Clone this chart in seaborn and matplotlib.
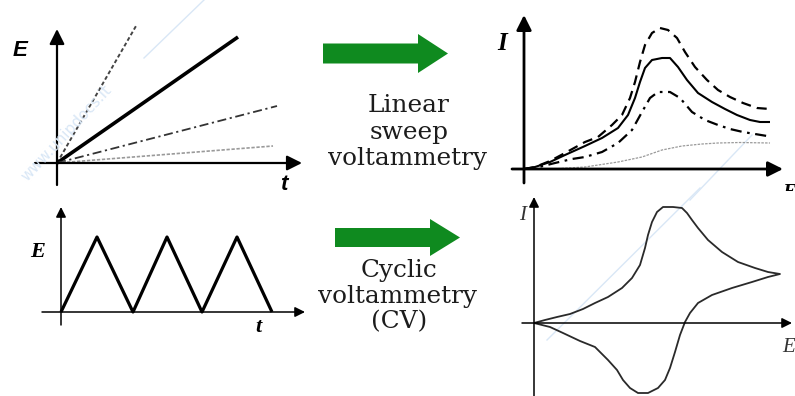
import matplotlib
matplotlib.use("Agg")
import matplotlib.pyplot as plt
from matplotlib.patches import Polygon
from matplotlib.lines import Line2D
import pandas as pd
import seaborn as sns

W, H = 795, 396

# ---- Linear sweep: potential ramps E(t) at four scan rates ----
ramp_fast_t = [0.0, 3.16]
ramp_fast_E = [0.0, 5.48]
ramp_mid_t = [0.0, 7.24]
ramp_mid_E = [0.0, 5.04]
ramp_slow_t = [0.0, 8.80]
ramp_slow_E = [0.0, 2.28]
ramp_slowest_t = [0.0, 8.64]
ramp_slowest_E = [0.0, 0.68]

# ---- Linear sweep voltammograms I(E) for the same four scan rates ----
lsv_fast_E = [0, 0.44, 1.04, 1.64, 2.44, 2.96, 3.52, 3.92, 4.24, 4.44, 4.64, 4.84, 5.12,
              5.44, 5.76, 6.12, 6.44, 6.84, 7.32, 7.76, 8.24, 8.76, 9.32, 9.84]
lsv_fast_I = [0, 0.2, 0.8, 1.6, 2.7, 3.2, 4.4, 5.4, 7.1, 8.7, 10.7, 12.4, 13.6,
              14.1, 13.9, 13.1, 11.7, 10.2, 8.9, 7.9, 7.2, 6.6, 6.1, 6.0]
lsv_mid_E = [0, 0.44, 1.04, 1.64, 2.44, 3.12, 3.76, 4.16, 4.44, 4.64, 4.84, 5.12, 5.52,
             5.84, 6.16, 6.52, 6.96, 7.52, 8.04, 8.52, 9.04, 9.44, 9.84]
lsv_mid_I = [0, 0.2, 0.7, 1.4, 2.3, 3.1, 4.1, 5.4, 7.1, 8.7, 10.1, 10.9, 11.1,
             11.1, 10.2, 8.9, 7.6, 6.7, 6.0, 5.4, 4.9, 4.7, 4.7]
lsv_slow_E = [0, 0.44, 1.24, 1.92, 2.44, 3.12, 3.76, 4.32, 4.72, 5.04, 5.36, 5.84, 6.24,
              6.72, 7.24, 7.76, 8.24, 8.76, 9.72]
lsv_slow_I = [0, 0.1, 0.6, 1.0, 1.2, 1.7, 2.6, 3.9, 5.7, 7.1, 7.7, 7.7, 7.1,
              5.7, 4.9, 4.4, 4.0, 3.7, 3.3]
lsv_slowest_E = [0, 1.44, 2.44, 3.76, 4.72, 5.52, 6.32, 7.12, 7.76, 8.64, 9.84]
lsv_slowest_I = [0, 0.05, 0.2, 0.7, 1.2, 1.9, 2.3, 2.5, 2.6, 2.65, 2.6]

# ---- Cyclic voltammetry: triangular potential waveform E(t) ----
wave_t = [0.0, 1.44, 2.88, 4.24, 5.64, 7.04, 8.44]
wave_E = [0.0, 3.0, 0.0, 3.0, 0.0, 3.0, 0.0]

# ---- Cyclic voltammogram I(E): forward scan then reverse scan ----
cv_E = [0, 0.44, 0.92, 1.44, 1.96, 2.44, 2.96, 3.52, 3.92, 4.24, 4.44, 4.56, 4.72,
        4.92, 5.16, 5.56, 5.92, 6.12, 6.32, 6.56, 6.96, 7.52, 8.16, 8.84, 9.36, 9.84,
        9.36, 8.72, 7.92, 7.12, 6.56, 6.24, 6.04, 5.84, 5.64, 5.44, 5.24, 4.96, 4.56,
        4.16, 3.84, 3.56, 3.32, 2.96, 2.44, 1.84, 1.16, 0.64, 0]
cv_I = [0, 0.15, 0.3, 0.45, 0.7, 1.0, 1.3, 1.75, 2.25, 2.9, 3.75, 4.4, 5.05,
        5.55, 5.8, 5.8, 5.75, 5.5, 5.15, 4.75, 4.15, 3.55, 3.05, 2.75, 2.55, 2.45,
        2.3, 2.05, 1.75, 1.4, 1.0, 0.5, 0.05, -0.6, -1.45, -2.25, -2.85, -3.25, -3.5,
        -3.5, -3.25, -2.85, -2.35, -1.85, -1.2, -0.9, -0.5, -0.2, 0]

fig = plt.figure(figsize=(W / 100, H / 100), dpi=100)
fig.patch.set_facecolor("white")


def panel(origin, sx, sy, box):
    """Axes covering a pixel box; data origin at `origin`, sx/sy pixels per unit."""
    ox, oy = origin
    x0, y0, x1, y1 = box
    ax = fig.add_axes([x0 / W, 1 - y1 / H, (x1 - x0) / W, (y1 - y0) / H])
    ax.set_xlim((x0 - ox) / sx, (x1 - ox) / sx)
    ax.set_ylim((oy - y1) / sy, (oy - y0) / sy)
    ax.axis("off")
    ax._px = (ox, oy, sx, sy)
    return ax


def axis_arrows(ax, xspan, yspan, lw, head):
    ox, oy, sx, sy = ax._px
    style = f"-|>,head_length={head[0]},head_width={head[1]}"
    kw = dict(arrowstyle=style, lw=lw, color="black", shrinkA=0, shrinkB=0)
    ax.annotate("", xy=((xspan[1] - ox) / sx, 0), xytext=((xspan[0] - ox) / sx, 0),
                arrowprops=kw, annotation_clip=False)
    ax.annotate("", xy=(0, (oy - yspan[1]) / sy), xytext=(0, (oy - yspan[0]) / sy),
                arrowprops=kw, annotation_clip=False)


def curve(ax, x, y, color, lw, dashes=None):
    df = pd.DataFrame({"x": x, "y": y})
    sns.lineplot(data=df, x="x", y="y", ax=ax, color=color, linewidth=lw,
                 sort=False, estimator=None)
    line = ax.lines[-1]
    line.set_solid_capstyle("butt")
    line.set_solid_joinstyle("round")
    if dashes is not None:
        line.set_dashes(dashes)
        line.set_dash_capstyle("butt")
        line.set_dash_joinstyle("round")
    return line


def block_arrow(x0, xh, x1, yc, bh, hh, color="#0f8a1f"):
    pts = [(x0, yc - bh), (xh, yc - bh), (xh, yc - hh), (x1, yc),
           (xh, yc + hh), (xh, yc + bh), (x0, yc + bh)]
    pts = [(x / W, 1 - y / H) for x, y in pts]
    fig.add_artist(Polygon(pts, closed=True, transform=fig.transFigure,
                           facecolor=color, edgecolor="none"))


def ftext(x, y, s, **kw):
    fig.text(x / W, 1 - y / H, s, **kw)


# faint watermark behind the drawing
wm = "#d9e7f6"
for (xa, ya), (xb, yb) in [((144, 58), (204, 0)), ((690, 200), (752, 135)),
                           ((547, 340), (700, 188))]:
    fig.add_artist(Line2D([xa / W, xb / W], [1 - ya / H, 1 - yb / H],
                          transform=fig.transFigure, color=wm, lw=1.0, zorder=0))
ftext(66, 133, "www.unipdocs.it", rotation=47, ha="center", va="center",
      color=wm, fontsize=11, family="DejaVu Sans", zorder=0)

# ---- top left: E vs t ramps ----
ax1 = panel((57, 163), 25, 25, (30, 20, 310, 190))
axis_arrows(ax1, (35, 302), (185, 29), 1.6, (0.9, 0.45))
curve(ax1, ramp_fast_t, ramp_fast_E, "#444444", 1.4, (2.0, 1.3))
curve(ax1, ramp_mid_t, ramp_mid_E, "black", 2.6)
curve(ax1, ramp_slow_t, ramp_slow_E, "#333333", 1.3, (5, 2, 1.2, 2))
curve(ax1, ramp_slowest_t, ramp_slowest_E, "#9a9a9a", 1.2, (2.0, 1.0))
ftext(20, 50, "E", ha="center", va="center", fontsize=16, fontweight="bold",
      fontstyle="italic", family="Liberation Sans")
ftext(284, 184, "t", ha="center", va="center", fontsize=16, fontweight="bold",
      fontstyle="italic", family="Liberation Sans")

# ---- top right: LSV currents ----
ax2 = panel((524, 169), 25, 10, (505, 10, 795, 191))
axis_arrows(ax2, (512, 783), (183, 15), 2.0, (0.9, 0.45))
curve(ax2, lsv_fast_E, lsv_fast_I, "black", 1.6, (4.5, 2.8))
curve(ax2, lsv_mid_E, lsv_mid_I, "black", 1.5)
curve(ax2, lsv_slow_E, lsv_slow_I, "black", 1.6, (5, 2.5, 1.2, 2.5))
curve(ax2, lsv_slowest_E, lsv_slowest_I, "#9a9a9a", 0.9, (2.0, 1.0))
ftext(502, 43, "I", ha="center", va="center", fontsize=18, fontweight="bold",
      fontstyle="italic", family="Liberation Serif")
ax2.text(10.62, -2.4, "E", ha="center", va="center", fontsize=15, fontweight="bold",
         fontstyle="italic", family="Liberation Serif", clip_on=True)

# ---- arrows and method names ----
block_arrow(323, 418, 448, 53.5, 10, 19.5)
block_arrow(335, 430, 460, 237.5, 9.5, 18.5)
tkw = dict(ha="center", va="baseline", fontsize=17.8, family="DejaVu Serif", color="#1c1c1c")
ftext(409, 112, "Linear", **tkw)
ftext(409, 138.5, "sweep", **tkw)
ftext(408, 165, "voltammetry", **tkw)
ftext(399, 277, "Cyclic", **tkw)
ftext(397, 302.5, "voltammetry", **tkw)
ftext(399, 328, "(CV)", **tkw)

# ---- bottom left: triangular waveform ----
ax3 = panel((61, 312), 25, 25, (35, 200, 310, 335))
axis_arrows(ax3, (42, 305), (325, 207), 1.1, (0.6, 0.3))
curve(ax3, wave_t, wave_E, "black", 2.3)
ftext(38, 252, "E", ha="center", va="center", fontsize=16, fontweight="bold",
      fontstyle="italic", family="Liberation Serif")
ftext(258, 327, "t", ha="center", va="center", fontsize=16, fontweight="bold",
      fontstyle="italic", family="Liberation Serif")

# ---- bottom right: cyclic voltammogram ----
ax4 = panel((534, 323), 25, 20, (515, 192, 795, 396))
axis_arrows(ax4, (522, 792), (396, 197), 1.1, (0.6, 0.3))
curve(ax4, cv_E, cv_I, "#2a2a2a", 1.3)
ftext(523, 215, "I", ha="center", va="center", fontsize=15,
      fontstyle="italic", family="Liberation Serif", color="#333333")
ftext(789, 347, "E", ha="center", va="center", fontsize=15,
      fontstyle="italic", family="Liberation Serif", color="#333333")

fig.savefig("out.png", dpi=100, facecolor="white")
